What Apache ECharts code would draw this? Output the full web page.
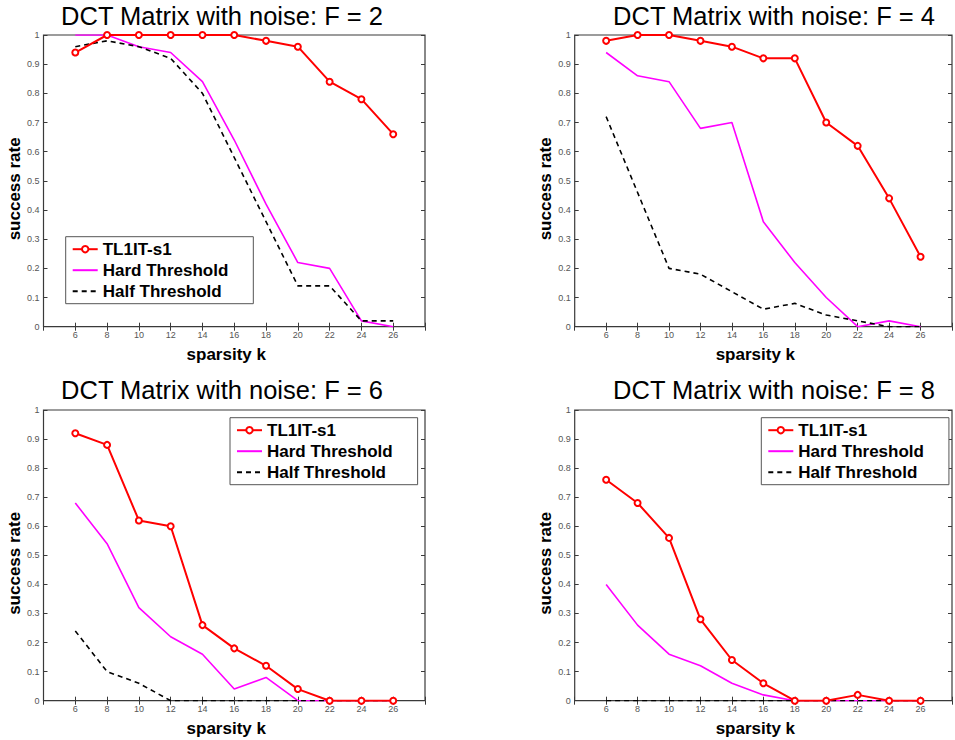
<!DOCTYPE html>
<html><head><meta charset="utf-8">
<script src="https://cdn.jsdelivr.net/npm/echarts@6/dist/echarts.min.js"></script>
<style>html,body{margin:0;padding:0;background:#fff}#c{width:955px;height:740px}</style>
</head><body><div id="c"></div>
<script>
// ---- data ----
const sparsity = [6, 8, 10, 12, 14, 16, 18, 20, 22, 24, 26];
const seriesNames = ['TL1IT-s1', 'Hard Threshold', 'Half Threshold'];
const titles = ['DCT Matrix with noise: F = 2', 'DCT Matrix with noise: F = 4', 'DCT Matrix with noise: F = 6', 'DCT Matrix with noise: F = 8'];

const tl1F2  = [0.94, 1.00, 1.00, 1.00, 1.00, 1.00, 0.98, 0.96, 0.84, 0.78, 0.66];
const hardF2 = [1.00, 1.00, 0.96, 0.94, 0.84, 0.64, 0.42, 0.22, 0.20, 0.02, 0.00];
const halfF2 = [0.96, 0.98, 0.96, 0.92, 0.80, 0.58, 0.36, 0.14, 0.14, 0.02, 0.02];

const tl1F4  = [0.98, 1.00, 1.00, 0.98, 0.96, 0.92, 0.92, 0.70, 0.62, 0.44, 0.24];
const hardF4 = [0.94, 0.86, 0.84, 0.68, 0.70, 0.36, 0.22, 0.10, 0.00, 0.02, 0.00];
const halfF4 = [0.72, 0.46, 0.20, 0.18, 0.12, 0.06, 0.08, 0.04, 0.02, 0.00, 0.00];

const tl1F6  = [0.92, 0.88, 0.62, 0.60, 0.26, 0.18, 0.12, 0.04, 0.00, 0.00, 0.00];
const hardF6 = [0.68, 0.54, 0.32, 0.22, 0.16, 0.04, 0.08, 0.00, 0.00, 0.00, 0.00];
const halfF6 = [0.24, 0.10, 0.06, 0.00, 0.00, 0.00, 0.00, 0.00, 0.00, 0.00, 0.00];

const tl1F8  = [0.76, 0.68, 0.56, 0.28, 0.14, 0.06, 0.00, 0.00, 0.02, 0.00, 0.00];
const hardF8 = [0.40, 0.26, 0.16, 0.12, 0.06, 0.02, 0.00, 0.00, 0.00, 0.00, 0.00];
const halfF8 = [0.00, 0.00, 0.00, 0.00, 0.00, 0.00, 0.00, 0.00, 0.00, 0.00, 0.00];

const panelData = [
  [tl1F2, hardF2, halfF2],
  [tl1F4, hardF4, halfF4],
  [tl1F6, hardF6, halfF6],
  [tl1F8, hardF8, halfF8]
];

// ---- layout ----
const FONT = 'Liberation Sans, Arial, Helvetica, sans-serif';
const grids = [
  {left: 43.5, top: 35, width: 381.5, height: 291.7},
  {left: 574.7, top: 35, width: 381.5, height: 291.7},
  {left: 43.5, top: 410, width: 381.5, height: 290.7},
  {left: 574.7, top: 410, width: 381.5, height: 290.7}
];
const titlePos = [[222, 16], [774, 16], [222, 390], [774, 390]];
const legendPos = [
  {left: 65.7, top: 236.7},
  null,
  {left: 230, top: 417.7},
  {left: 761.3, top: 417.7}
];

const axisCol = '#3a3a3a';
const xAxes = [], yAxes = [], series = [], legends = [], graphics = [];

grids.forEach((g, i) => {
  const tick = {show: true, inside: true, length: 4, lineStyle: {color: axisCol, width: 1}};
  xAxes.push({
    type: 'value', gridIndex: i, min: 4, max: 28, interval: 2, position: 'bottom',
    axisLine: {show: false}, axisTick: tick, splitLine: {show: false},
    axisLabel: {fontSize: 9, color: '#555', margin: 4, fontFamily: FONT,
      formatter: v => (v === 4 || v === 28) ? '' : String(v)},
    name: 'sparsity k', nameLocation: 'middle', nameGap: 19,
    nameTextStyle: {fontSize: 17, fontWeight: 'bold', color: '#000', fontFamily: FONT, padding: [0, 16, 0, 0]}
  });
  xAxes.push({
    type: 'value', gridIndex: i, min: 4, max: 28, interval: 2, position: 'top',
    axisLine: {show: false}, axisTick: tick, splitLine: {show: false}, axisLabel: {show: false}
  });
  yAxes.push({
    type: 'value', gridIndex: i, min: 0, max: 1, interval: 0.1, position: 'left',
    axisLine: {show: false}, axisTick: tick, splitLine: {show: false},
    axisLabel: {fontSize: 9, color: '#555', margin: 4, fontFamily: FONT,
      formatter: v => (v === 0 ? '0' : (Math.abs(v - 1) < 1e-9 ? '1' : v.toFixed(1)))},
    name: 'success rate', nameLocation: 'middle', nameGap: 20,
    nameTextStyle: {fontSize: 17, fontWeight: 'bold', color: '#000', fontFamily: FONT, padding: [0, 16, 0, 0]}
  });
  yAxes.push({
    type: 'value', gridIndex: i, min: 0, max: 1, interval: 0.1, position: 'right',
    axisLine: {show: false}, axisTick: tick, splitLine: {show: false}, axisLabel: {show: false}
  });

  const d = panelData[i];
  const mk = arr => sparsity.map((k, j) => [k, arr[j]]);
  series.push({
    name: seriesNames[0], type: 'line', xAxisIndex: 2 * i, yAxisIndex: 2 * i, data: mk(d[0]),
    symbol: 'emptyCircle', symbolSize: 6, showSymbol: true,
    lineStyle: {color: '#ff0000', width: 2}, itemStyle: {color: '#ff0000', borderWidth: 1.5},
    z: 4, silent: true
  });
  series.push({
    name: seriesNames[1], type: 'line', xAxisIndex: 2 * i, yAxisIndex: 2 * i, data: mk(d[1]),
    symbol: 'none', lineStyle: {color: '#ff00ff', width: 1.6}, itemStyle: {color: '#ff00ff'}, z: 3, silent: true
  });
  series.push({
    name: seriesNames[2], type: 'line', xAxisIndex: 2 * i, yAxisIndex: 2 * i, data: mk(d[2]),
    symbol: 'none', lineStyle: {color: '#000', width: 1.6, type: [5, 4]}, itemStyle: {color: '#000'}, z: 3, silent: true
  });

  if (legendPos[i]) {
    legends.push({
      data: [
        {name: seriesNames[0]},
        {name: seriesNames[1], itemStyle: {opacity: 0}},
        {name: seriesNames[2], itemStyle: {opacity: 0}}
      ],
      orient: 'vertical', left: legendPos[i].left, top: legendPos[i].top,
      itemWidth: 25, itemHeight: 8, itemGap: 4, padding: [4, 25, 4, 6],
      borderColor: '#555', borderWidth: 1, backgroundColor: '#fff',
      textStyle: {fontSize: 17, fontWeight: 'bold', color: '#000', fontFamily: FONT},
      selectedMode: false, z: 10
    });
  }

  graphics.push({
    type: 'text', x: titlePos[i][0], y: titlePos[i][1],
    style: {text: titles[i], font: '25.5px ' + FONT, fill: '#000', textAlign: 'center', textVerticalAlign: 'middle'}
  });
});

const chart = echarts.init(document.getElementById('c'), null, {renderer: 'svg'});
chart.setOption({
  animation: false,
  backgroundColor: '#fff',
  grid: grids.map(g => Object.assign({show: true, borderColor: axisCol, borderWidth: 1.2, backgroundColor: 'transparent', containLabel: false}, g)),
  xAxis: xAxes,
  yAxis: yAxes,
  legend: legends,
  series: series,
  graphic: graphics
});
</script>
</body></html>
